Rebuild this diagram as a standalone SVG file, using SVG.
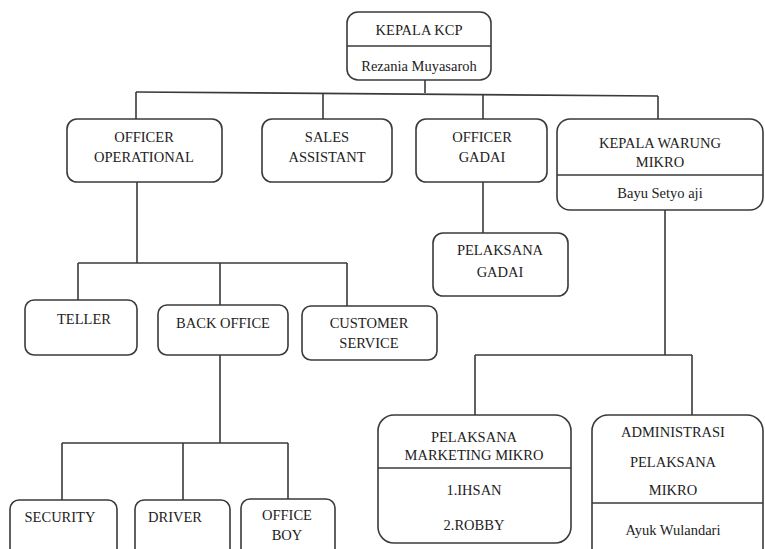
<svg xmlns="http://www.w3.org/2000/svg" width="765" height="549" viewBox="0 0 765 549">
<style>
.box{fill:#fff;stroke:#3a3a3a;stroke-width:1.6}
.div{stroke:#3a3a3a;stroke-width:1.6}
.ln{fill:none;stroke:#3a3a3a;stroke-width:1.6}
.t{font-family:"Liberation Serif","Times New Roman",serif;font-size:14.5px;fill:#222;text-anchor:middle}
</style>
<rect width="765" height="549" fill="#fff"/>
<g id="connectors">
<path class="ln" d="M425 80V93"/>
<path class="ln" d="M136 92L658 96"/>
<path class="ln" d="M136 92V119M323 93.5V119M483 94.8V119M658 96V119"/>
<path class="ln" d="M137 182V263M78 263H347M78 263V300M220 263V305M347 263V306"/>
<path class="ln" d="M220 355V443M62 443H288M62 443V500M183 443V500M288 443V499"/>
<path class="ln" d="M483 182V233"/>
<path class="ln" d="M665 210V355M475 355H692M475 355V415M692 355V415"/>
</g>
<g id="kepala-kcp">
<rect class="box" x="347" y="12" width="144" height="68" rx="11"/>
<line class="div" x1="347" y1="46" x2="491" y2="46"/>
<text class="t" x="419" y="35">KEPALA KCP</text>
<text class="t" x="419" y="71">Rezania Muyasaroh</text>
</g>
<g id="officer-operational">
<rect class="box" x="67" y="119" width="155" height="63" rx="10"/>
<text class="t" x="144" y="142">OFFICER</text>
<text class="t" x="144" y="162">OPERATIONAL</text>
</g>
<g id="sales-assistant">
<rect class="box" x="262" y="119" width="130" height="63" rx="10"/>
<text class="t" x="327" y="142">SALES</text>
<text class="t" x="327" y="162">ASSISTANT</text>
</g>
<g id="officer-gadai">
<rect class="box" x="416" y="119" width="131" height="63" rx="10"/>
<text class="t" x="482" y="142">OFFICER</text>
<text class="t" x="482" y="162">GADAI</text>
</g>
<g id="kepala-warung-mikro">
<rect class="box" x="557" y="119" width="206" height="91" rx="13"/>
<line class="div" x1="557" y1="175" x2="763" y2="175"/>
<text class="t" x="660" y="148">KEPALA WARUNG</text>
<text class="t" x="660" y="167">MIKRO</text>
<text class="t" x="660" y="198">Bayu Setyo aji</text>
</g>
<g id="pelaksana-gadai">
<rect class="box" x="433" y="233" width="135" height="63" rx="10"/>
<text class="t" x="500" y="255">PELAKSANA</text>
<text class="t" x="500" y="277">GADAI</text>
</g>
<g id="teller">
<rect class="box" x="25" y="300" width="112" height="55" rx="9"/>
<text class="t" x="84" y="324">TELLER</text>
</g>
<g id="back-office">
<rect class="box" x="158" y="305" width="130" height="50" rx="9"/>
<text class="t" x="223" y="328">BACK OFFICE</text>
</g>
<g id="customer-service">
<rect class="box" x="302" y="306" width="135" height="54" rx="9"/>
<text class="t" x="369" y="328">CUSTOMER</text>
<text class="t" x="369" y="348">SERVICE</text>
</g>
<g id="security">
<rect class="box" x="10" y="500" width="107" height="60" rx="9"/>
<text class="t" x="60" y="522">SECURITY</text>
</g>
<g id="driver">
<rect class="box" x="135" y="500" width="95" height="60" rx="9"/>
<text class="t" x="175" y="522">DRIVER</text>
</g>
<g id="office-boy">
<rect class="box" x="241" y="499" width="94" height="60" rx="9"/>
<text class="t" x="287" y="520">OFFICE</text>
<text class="t" x="287" y="540">BOY</text>
</g>
<g id="pelaksana-marketing-mikro">
<rect class="box" x="378" y="415" width="193" height="128" rx="16"/>
<line class="div" x1="378" y1="468" x2="571" y2="468"/>
<text class="t" x="474" y="442">PELAKSANA</text>
<text class="t" x="474" y="460">MARKETING MIKRO</text>
<text class="t" x="474" y="495">1.IHSAN</text>
<text class="t" x="474" y="530">2.ROBBY</text>
</g>
<g id="administrasi-pelaksana-mikro">
<rect class="box" x="592" y="415" width="171" height="150" rx="16"/>
<line class="div" x1="592" y1="503" x2="763" y2="503"/>
<text class="t" x="673" y="437">ADMINISTRASI</text>
<text class="t" x="673" y="467">PELAKSANA</text>
<text class="t" x="673" y="495">MIKRO</text>
<text class="t" x="673" y="535">Ayuk Wulandari</text>
</g>
</svg>
